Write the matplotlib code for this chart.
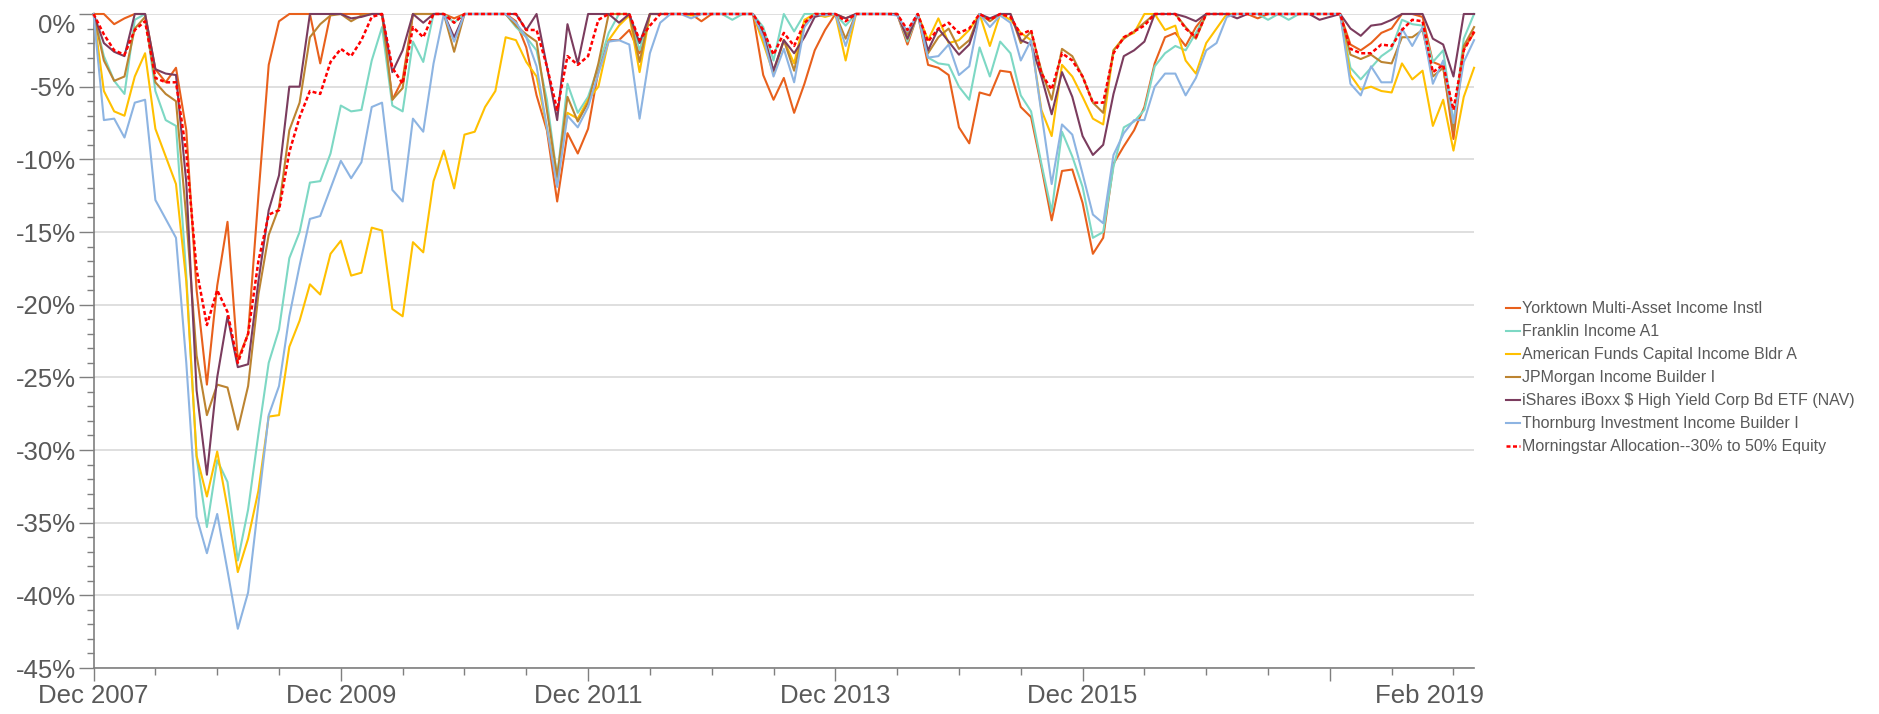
import matplotlib.pyplot as plt
import numpy as np

plt.rcParams['font.family'] = ['Liberation Sans', 'DejaVu Sans']

# monthly drawdowns (%), Dec 2007 .. Feb 2019
yorktown = [0,
    0, -0.7, -0.3, 0, 0, -3.8, -4.7, -3.7, -8, -19, -25.5, -18.7,
    -14.3, -23.8, -22, -12.5, -3.5, -0.5, 0, 0, 0, -3.4, 0, 0,
    0, 0, 0, 0, -5.9, -4.5, 0, 0, 0, 0, -0.3, 0,
    0, 0, 0, 0, -0.5, -2.3, -5.6, -8, -12.9, -8.2, -9.6, -7.9,
    -3.9, -1.8, -1.8, -1.1, -2.7, 0, 0, 0, 0, 0, -0.5, 0,
    0, 0, 0, 0, -4.2, -5.9, -4.4, -6.8, -4.8, -2.5, -1.1, 0,
    -0.3, 0, 0, 0, 0, 0, -2.1, 0, -3.5, -3.7, -4.2, -7.8,
    -8.9, -5.4, -5.6, -3.9, -4.0, -6.4, -7.1, -10.5, -14.2, -10.8, -10.7, -13,
    -16.5, -15.4, -10.3, -9.1, -8, -6.4, -3.4, -1.6, -1.3, -2.2, -0.9, 0,
    0, 0, 0, 0, -0.3, 0, 0, 0, 0, 0, 0, 0,
    0, -2.1, -2.5, -2, -1.3, -1, 0, 0, -0.2, -3.3, -3.6, -8.6,
    -2.4, -1.3]
franklin = [0,
    -2.9, -4.6, -5.5, -0.4, 0, -5.3, -7.3, -7.7, -18, -30.5, -35.3, -30.7,
    -32.2, -37.6, -34.1, -28.9, -24, -21.7, -16.8, -15, -11.6, -11.5, -9.6, -6.3,
    -6.7, -6.6, -3.2, -0.9, -6.3, -6.7, -1.9, -3.3, 0, 0, -0.6, 0,
    0, 0, 0, 0, -0.9, -1.6, -2.5, -5.9, -11.2, -4.8, -6.8, -5.7,
    -3.6, -1.3, 0, 0, -2.5, 0, 0, 0, 0, 0, 0, 0,
    0, -0.4, 0, 0, -0.9, -3.2, 0, -1.2, 0, 0, 0, 0,
    -0.8, 0, 0, 0, 0, 0, -1.9, 0, -3, -3.4, -3.5, -5,
    -5.9, -2.3, -4.3, -1.9, -2.7, -5.6, -6.7, -10.3, -13.6, -8.1, -9.8, -11.9,
    -15.4, -15, -10.5, -7.8, -7.4, -6.6, -3.6, -2.7, -2.2, -2.5, -1.3, 0,
    0, 0, 0, 0, 0, -0.4, 0, -0.4, 0, 0, 0, 0,
    0, -3.7, -4.5, -3.7, -2.9, -2.4, -0.4, -0.7, -0.8, -3.3, -2.5, -7.5,
    -1.7, 0]
american = [0,
    -5.3, -6.7, -7.0, -4.3, -2.7, -7.9, -9.8, -11.7, -18.4, -30.4, -33.2, -30.1,
    -34, -38.4, -36.1, -32.8, -27.7, -27.6, -22.9, -21.1, -18.6, -19.3, -16.5, -15.6,
    -18, -17.8, -14.7, -14.9, -20.3, -20.8, -15.7, -16.4, -11.5, -9.4, -12, -8.3,
    -8.1, -6.4, -5.3, -1.6, -1.8, -3.3, -4.3, -7.8, -11.4, -6.8, -7.2, -5.9,
    -5, -1.8, -0.8, -0.1, -4, 0, 0, 0, 0, -0.1, 0, 0,
    0, 0, 0, 0, -2, -4.1, -1.8, -3.4, -0.4, 0, -0.2, 0,
    -3.2, 0, 0, 0, 0, 0, -1.7, 0, -1.8, -0.3, -2, -1.8,
    -1.1, 0, -2.2, 0, -0.4, -1.3, -1.8, -6.6, -8.4, -3.5, -4.3, -5.7,
    -7.2, -7.6, -2.5, -1.6, -1.3, 0, 0, -1.1, -0.8, -3.2, -4.1, -2,
    -1, 0, 0, 0, 0, 0, 0, 0, 0, 0, 0, 0,
    0, -4.2, -5.2, -5, -5.3, -5.4, -3.4, -4.5, -3.9, -7.7, -5.9, -9.4,
    -5.7, -3.7]
jpmorgan = [0,
    -3.2, -4.6, -4.3, -1, -0.2, -4.7, -5.5, -6, -14, -23.5, -27.6, -25.5,
    -25.7, -28.6, -25.6, -19.3, -15.2, -13.3, -8, -6.1, -1.6, -0.7, -0.1, 0,
    -0.5, -0.1, 0, 0, -5.9, -5.1, 0, 0, 0, 0, -2.6, 0,
    0, 0, 0, 0, -0.8, -1.4, -1.9, -6.6, -11.2, -5.7, -7.4, -6.1,
    -3.4, 0, 0, 0, -3.3, 0, 0, 0, 0, 0, 0, 0,
    0, 0, 0, 0, -1.6, -3.9, -1.8, -3.9, -0.8, 0, 0, 0,
    -1.7, 0, 0, 0, 0, 0, -1.4, 0, -2.7, -1.6, -1, -2.4,
    -1.8, 0, -0.5, 0, 0, -2, -1.2, -3.9, -5.9, -2.4, -2.9, -4.3,
    -6.1, -6.8, -2.5, -1.7, -1.2, -0.6, 0, 0, 0, -0.9, -1.7, 0,
    0, 0, 0, 0, 0, 0, 0, 0, 0, 0, 0, 0,
    0, -2.8, -3.1, -2.8, -3.3, -3.4, -1.6, -1.6, -1.1, -4.3, -3.7, -8,
    -2.2, -0.9]
ishares = [0,
    -2, -2.6, -2.9, 0, 0, -3.8, -4.1, -4.2, -11.6, -25.9, -31.7, -25,
    -20.8, -24.3, -24.1, -18.4, -13.5, -11.1, -5, -5, 0, 0, 0, 0,
    -0.3, -0.2, 0, 0, -4, -2.5, 0, -0.6, 0, 0, -1.6, 0,
    0, 0, 0, 0, 0, -1.1, 0, -3.6, -7.3, -0.7, -3.4, 0,
    0, 0, -0.6, 0, -2, 0, 0, 0, 0, 0, 0, 0,
    0, 0, 0, 0, -1.3, -3.9, -1.8, -2.7, -1.6, -0.2, 0, 0,
    -0.3, 0, 0, 0, 0, 0, -1.7, 0, -2.5, -1, -1.9, -2.8,
    -2.1, 0, -0.3, 0, 0, -1.8, -2.1, -4.3, -6.9, -4, -5.7, -8.4,
    -9.7, -9, -5.5, -2.9, -2.5, -1.9, 0, 0, 0, -0.2, -0.5, 0,
    0, 0, -0.3, 0, 0, 0, 0, 0, 0, 0, -0.4, -0.2,
    0, -1, -1.5, -0.8, -0.7, -0.4, 0, 0, 0, -1.7, -2.1, -4.3,
    0, 0]
thornburg = [0,
    -7.3, -7.2, -8.5, -6.1, -5.9, -12.8, -14.1, -15.4, -24, -34.6, -37.1, -34.4,
    -38.3, -42.3, -39.8, -33.7, -27.6, -25.6, -20.8, -17.3, -14.1, -13.9, -12, -10.1,
    -11.3, -10.2, -6.4, -6.1, -12.1, -12.9, -7.2, -8.1, -3.4, 0, -1.9, 0,
    0, 0, 0, 0, -0.6, -1.6, -3.6, -7.8, -11.9, -7, -7.8, -6.4,
    -4.1, -1.9, -1.8, -2.1, -7.2, -2.7, -0.6, 0, 0, -0.3, 0, 0,
    0, 0, 0, 0, -1.6, -4.3, -2.4, -4.7, -0.9, 0, -0.1, 0,
    -2.2, 0, 0, 0, 0, -0.1, -1.2, 0, -3, -2.9, -2.1, -4.2,
    -3.6, 0, -0.9, -0.1, -0.6, -3.2, -1.8, -6.8, -11.7, -7.6, -8.3, -11,
    -13.8, -14.4, -9.7, -8.2, -7.3, -7.3, -5, -4.1, -4.1, -5.6, -4.4, -2.5,
    -2, -0.2, 0, 0, 0, 0, 0, 0, 0, 0, 0, 0,
    0, -4.8, -5.6, -3.6, -4.7, -4.7, -1, -2.2, -0.9, -4.8, -3.2, -7.5,
    -3.3, -1.8]
morningstar = [0,
    -1.4, -2.5, -2.8, -1.1, -0.5, -4.4, -4.7, -4.7, -9.5, -17.6, -21.4, -19,
    -20.5, -24, -22, -17, -13.8, -13.5, -9.5, -7.1, -5.3, -5.5, -3.3, -2.4,
    -2.9, -1.8, -0.2, 0, -3.7, -4.8, -0.9, -1.6, 0, 0, -0.6, 0,
    0, 0, 0, 0, 0, -1.1, -1.1, -3.6, -6.6, -2.9, -3.5, -2.9,
    -0.4, 0, 0, 0, -1.8, -0.8, 0, 0, 0, 0, 0, 0,
    0, 0, 0, 0, -1.1, -2.8, -1.3, -2.2, -0.6, 0, 0, 0,
    -0.5, 0, 0, 0, 0, 0, -1.1, 0, -1.9, -1, -0.6, -1.3,
    -1, 0, -0.4, 0, -0.2, -1.4, -1.1, -4.1, -5.2, -2.7, -3.2, -4.3,
    -6.1, -6.1, -2.7, -1.6, -1.2, -0.8, 0, 0, 0, -1, -1.6, 0,
    0, 0, 0, 0, 0, 0, 0, 0, 0, 0, 0, 0,
    0, -2.4, -2.7, -2.7, -2.1, -2.2, -1.1, -0.4, -0.5, -4, -3.5, -6.6,
    -2.5, -1.2]

series_names = [
    "Yorktown Multi-Asset Income Instl",
    "Franklin Income A1",
    "American Funds Capital Income Bldr A",
    "JPMorgan Income Builder I",
    "iShares iBoxx $ High Yield Corp Bd ETF (NAV)",
    "Thornburg Investment Income Builder I",
    "Morningstar Allocation--30% to 50% Equity",
]
series_values = [yorktown, franklin, american, jpmorgan, ishares, thornburg, morningstar]
colors = ["#E8601C", "#7DD8C4", "#FFC000", "#BC8431", "#7B3C5E", "#8DB4E2", "#FF0000"]

x_tick_labels = ["Dec 2007", "Dec 2009", "Dec 2011", "Dec 2013", "Dec 2015", ""]
end_label = "Feb 2019"
y_ticks = [0, -5, -10, -15, -20, -25, -30, -35, -40, -45]

grey = "#595959"
fig = plt.figure(figsize=(18.79, 7.14), dpi=100)
ax = fig.add_axes([0.0498, 0.0644, 0.7347, 0.916])

x = np.arange(len(yorktown))
for name, vals, c in zip(series_names, series_values, colors):
    if name.startswith("Morningstar"):
        ax.plot(x, vals, color=c, lw=1.8, ls=(0, (1.6, 1.0)), label=name, clip_on=False, zorder=4)
    else:
        ax.plot(x, vals, color=c, lw=1.5, label=name, clip_on=False, zorder=3)

ax.set_xlim(0, len(x) - 1)
ax.set_ylim(-45, 0)
ax.set_yticks(y_ticks)
ax.set_yticklabels([f"{v}%" for v in y_ticks])
ax.set_yticks(np.arange(-45, 1, 1), minor=True)
ax.set_xticks(np.arange(0, 121, 24))
ax.set_xticklabels(x_tick_labels)
ax.set_xticks([m for m in range(0, len(x), 6) if m % 24], minor=True)

ax.grid(axis="y", color="#D9D9D9", lw=1.2, zorder=0)
for s in ["top", "right"]:
    ax.spines[s].set_visible(False)
for s in ["left", "bottom"]:
    ax.spines[s].set_color("#7F7F7F")
    ax.spines[s].set_linewidth(1.2)

ax.tick_params(axis="both", which="both", colors="#7F7F7F", labelcolor=grey, labelsize=18.5, width=1)
ax.tick_params(axis="y", which="major", length=10.5, pad=2.5)
ax.tick_params(axis="y", which="minor", length=5)
ax.tick_params(axis="x", which="major", length=9.5, pad=2)
ax.tick_params(axis="x", which="minor", length=5)

# top label sits below its gridline, like the original
top_lbl = ax.get_yticklabels()[0]
top_lbl.set_va("top")

ax.annotate(end_label, xy=(len(x), 0), xycoords=("data", "axes fraction"),
            xytext=(0, -11.5), textcoords="offset points", ha="right", va="top",
            fontsize=18.5, color=grey, annotation_clip=False)

leg = fig.legend(loc="center left", bbox_to_anchor=(0.797, 0.471), frameon=False,
                 fontsize=11.5, handlelength=0.9, handletextpad=0.15,
                 labelspacing=0.5, borderpad=0)
for t in leg.get_texts():
    t.set_color(grey)

fig.savefig("out.png", dpi=100)
